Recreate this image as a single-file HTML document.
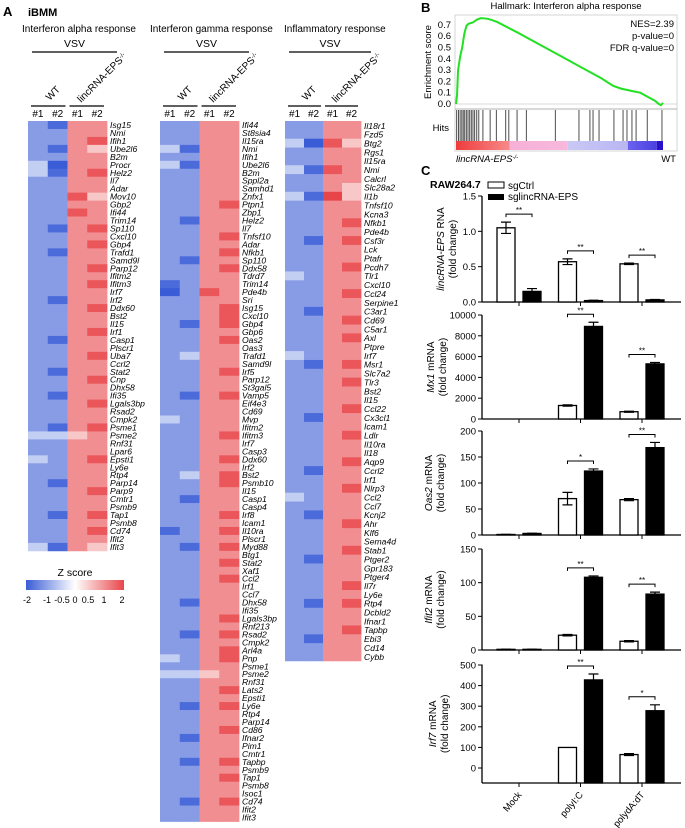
<!DOCTYPE html>
<html><head><meta charset="utf-8">
<style>
html,body{margin:0;padding:0;background:#fff;}
svg{display:block;font-family:"Liberation Sans",Arial,sans-serif;}
</style></head>
<body>
<svg id="fig" width="685" height="828" viewBox="0 0 685 828" xmlns="http://www.w3.org/2000/svg">
<defs>
<linearGradient id="zgrad" x1="0" x2="1" y1="0" y2="0">
<stop offset="0" stop-color="#3a5cd6"/><stop offset="0.5" stop-color="#ffffff"/><stop offset="1" stop-color="#e8454a"/>
</linearGradient>
</defs>
<g>
<text x="3" y="16" font-size="13" font-weight="bold">A</text>
<text x="28" y="16" font-size="11" font-weight="bold">iBMM</text>
<text x="22" y="32" font-size="10">Interferon alpha response</text>
<text x="150" y="32" font-size="10">Interferon gamma response</text>
<text x="284" y="32" font-size="10">Inflammatory response</text>
<g>
<text x="75" y="576" font-size="10.5" text-anchor="middle">Z score</text>
<rect x="26" y="580" width="98" height="10" fill="url(#zgrad)"/>
<text x="27" y="603" font-size="9" text-anchor="middle">-2</text>
<text x="47" y="603" font-size="9" text-anchor="middle">-1</text>
<text x="62" y="603" font-size="9" text-anchor="middle">-0.5</text>
<text x="75" y="603" font-size="9" text-anchor="middle">0</text>
<text x="88" y="603" font-size="9" text-anchor="middle">0.5</text>
<text x="104" y="603" font-size="9" text-anchor="middle">1</text>
<text x="122" y="603" font-size="9" text-anchor="middle">2</text>
</g>
</g>
<g id="heatmaps"></g>
<g>
<text x="421" y="12" font-size="13" font-weight="bold">B</text>
<text x="566" y="9" font-size="9.5" text-anchor="middle">Hallmark: Interferon alpha response</text>
<rect x="455" y="15" width="222" height="136" fill="none" stroke="#ccc" stroke-width="0.8"/>
<line x1="455" x2="677" y1="104" y2="104" stroke="#ccc" stroke-width="0.8"/>
<line x1="455" x2="677" y1="109" y2="109" stroke="#999" stroke-width="0.8"/>
<text transform="translate(431,62) rotate(-90)" font-size="9.5" text-anchor="middle">Enrichment score</text>
<text x="449" y="131" font-size="9.5" text-anchor="end">Hits</text>
<text x="674" y="27" font-size="9.5" text-anchor="end">NES=2.39</text>
<text x="674" y="39" font-size="9.5" text-anchor="end">p-value=0</text>
<text x="674" y="51" font-size="9.5" text-anchor="end">FDR q-value=0</text>
<text x="456" y="162" font-size="9.5" font-style="italic">lincRNA-EPS<tspan font-size="6" dy="-3">-/-</tspan></text>
<text x="676" y="162" font-size="9.5" text-anchor="end">WT</text>
<g id="gsea"></g>
</g>
<g>
<text x="421" y="175" font-size="13" font-weight="bold">C</text>
<text x="430" y="188" font-size="10.5" font-weight="bold">RAW264.7</text>
<rect x="488" y="182" width="16" height="6" fill="#fff" stroke="#000" stroke-width="1"/>
<text x="508" y="189" font-size="10">sgCtrl</text>
<rect x="488" y="194" width="16" height="6" fill="#000"/>
<text x="508" y="200" font-size="10">sglincRNA-EPS</text>
<g id="barcharts"></g>
</g>
</svg>
<script>
// ---------- Heatmap data ----------
const genesAlpha = "Isg15 Nmi Ifih1 Ube2l6 B2m Procr Helz2 Il7 Adar Mov10 Gbp2 Ifi44 Trim14 Sp110 Cxcl10 Gbp4 Trafd1 Samd9l Parp12 Ifitm2 Ifitm3 Irf7 Irf2 Ddx60 Bst2 Il15 Irf1 Casp1 Plscr1 Uba7 Ccrl2 Stat2 Cnp Dhx58 Ifi35 Lgals3bp Rsad2 Cmpk2 Psme1 Psme2 Rnf31 Lpar6 Epsti1 Ly6e Rtp4 Parp14 Parp9 Cmtr1 Psmb9 Tap1 Psmb8 Cd74 Ifit2 Ifit3".split(" ");
const valsAlpha = "2166 2266 2267 2165 2266 3066 3167 2266 2266 2275 2266 2276 2266 2167 2266 2267 2166 2266 2267 2266 2267 2266 2166 2267 2266 2266 2267 2166 2266 2267 2266 2166 2267 2266 2166 2267 2266 2266 2167 3356 2266 2266 3267 2266 2266 2166 2267 2266 2266 2167 2266 2267 2266 3165".split(" ");
const genesGamma = "Ifi44 St8sia4 Il15ra Nmi Ifih1 Ube2l6 B2m Sppl2a Samhd1 Znfx1 Ptpn1 Zbp1 Helz2 Il7 Tnfsf10 Adar Nfkb1 Sp110 Ddx58 Tdrd7 Trim14 Pde4b Sri Isg15 Cxcl10 Gbp4 Gbp6 Oas2 Oas3 Trafd1 Samd9l Irf5 Parp12 St3gal5 Vamp5 Eif4e3 Cd69 Mvp Ifitm2 Ifitm3 Irf7 Casp3 Ddx60 Irf2 Bst2 Psmb10 Il15 Casp1 Casp4 Irf8 Icam1 Il10ra Plscr1 Myd88 Btg1 Stat2 Xaf1 Ccl2 Irf1 Ccl7 Dhx58 Ifi35 Lgals3bp Rnf213 Rsad2 Cmpk2 Arl4a Pnp Psme1 Psme2 Rnf31 Lats2 Epsti1 Ly6e Rtp4 Parp14 Cd86 Ifnar2 Pim1 Cmtr1 Tapbp Psmb9 Tap1 Psmb8 Isoc1 Cd74 Ifit2 Ifit3".split(" ");
const valsGamma = "2266 2266 2266 3166 2266 3166 2266 2266 2266 2266 2267 2266 2166 2266 2267 2266 2267 2166 2267 2266 1266 0276 2266 2267 2267 2167 2266 2267 2266 2366 2266 2267 2266 2266 2167 2266 2266 3266 2266 2267 2266 2266 2267 2266 2367 2267 2266 2166 2266 2267 2266 1267 2266 2167 2266 2267 2266 2267 2266 2266 2166 2266 2267 2266 2167 2266 2267 3267 2266 3356 2266 2267 2266 2167 2266 2266 2267 2166 2266 2266 2167 2266 2267 2266 2266 2167 2266 2266".split(" ");
const genesInflam = "Il18r1 Fzd5 Btg2 Rgs1 Il15ra Nmi Calcrl Slc28a2 Il1b Tnfsf10 Kcna3 Nfkb1 Pde4b Csf3r Lck Ptafr Pcdh7 Tlr1 Cxcl10 Ccl24 Serpine1 C3ar1 Cd69 C5ar1 Axl Ptpre Irf7 Msr1 Slc7a2 Tlr3 Bst2 Il15 Ccl22 Cx3cl1 Icam1 Ldlr Il10ra Il18 Aqp9 Ccrl2 Irf1 Nlrp3 Ccl2 Ccl7 Kcnj2 Ahr Klf6 Sema4d Stab1 Ptger2 Gpr183 Ptger4 Il7r Ly6e Rtp4 Dcbld2 Ifnar1 Tapbp Ebi3 Cd14 Cybb".split(" ");
const valsInflam = "2266 2266 3075 2266 2266 3176 2266 2265 3185 2266 2266 2267 2266 2167 2266 2266 2267 3266 2266 2267 2266 2166 2267 2266 2267 2266 3266 2167 2266 2267 2266 2266 2267 2166 2266 2267 2266 2266 2267 2166 2266 2267 3266 2266 2166 2267 2266 2266 2267 2166 2266 2266 2267 2266 2167 2266 2266 2267 2166 2266 2266".split(" ");

const NS = "http://www.w3.org/2000/svg";
function mk(tag, attrs, parent){ const e=document.createElementNS(NS,tag); for(const k in attrs) e.setAttribute(k,attrs[k]); parent.appendChild(e); return e; }
function lerp(a,b,t){return Math.round(a+(b-a)*t);}
function zColor(z){
  z=Math.max(-2,Math.min(2,z));
  const blue=[58,92,214], white=[255,255,255], red=[232,69,74];
  let c;
  if(z<0){const t=(z+2)/2; c=[lerp(blue[0],white[0],t),lerp(blue[1],white[1],t),lerp(blue[2],white[2],t)];}
  else{const t=z/2; c=[lerp(white[0],red[0],t),lerp(white[1],red[1],t),lerp(white[2],red[2],t)];}
  return `rgb(${c[0]},${c[1]},${c[2]})`;
}
const hmRoot = document.getElementById('heatmaps');
function drawHeatmap(genes, vals, x0, y0, w, rowH, name){
  const g = mk('g',{},hmRoot);
  
  
  const cw = w/4;
  const hx = x0;
  let l = mk('line',{x1:hx+4,x2:hx+w+10,y1:52,y2:52,stroke:'#000','stroke-width':1.2},g);
   
  let t = mk('text',{x:hx+w/2+7,y:47,'font-size':10.5,'text-anchor':'middle'},g); t.textContent='VSV';
   
  l = mk('line',{x1:hx+3,x2:hx+2*cw-2,y1:106,y2:106,stroke:'#000','stroke-width':1.2},g);
   
  l = mk('line',{x1:hx+2*cw+2,x2:hx+4*cw-3,y1:106,y2:106,stroke:'#000','stroke-width':1.2},g);
   
  t = mk('text',{transform:`translate(${hx+cw+2},101) rotate(-45)`,'font-size':10},g); t.textContent='WT';
   
  t = mk('text',{transform:`translate(${hx+3*cw-6},103) rotate(-45)`,'font-size':10},g);
  t.innerHTML='lincRNA-EPS<tspan font-size="6" dy="-3">-/-</tspan>';
   
  ['#1','#2','#1','#2'].forEach((s,i)=>{
    const tt = mk('text',{x:hx+cw*i+cw/2,y:117,'font-size':10,'text-anchor':'middle'},g); tt.textContent=s;
     
  });
  genes.forEach((gene,r)=>{
    const row = vals[r];
    for(let c=0;c<4;c++){
      const z=(parseInt(row[c])-4)/1.65;
      const rc = mk('rect',{x:x0+c*cw,y:y0+r*rowH,width:cw+0.4,height:rowH+0.4,fill:zColor(z)},g);
      
      
    }
    const gt = mk('text',{x:x0+w+3,y:y0+r*rowH+rowH*0.88,'font-size':8.6,'font-style':'italic'},g);
    gt.textContent=gene;
    
    
  });
}
drawHeatmap(genesAlpha, valsAlpha, 28, 121, 79, 7.96, 'heatmap-alpha');
drawHeatmap(genesGamma, valsGamma, 160, 121, 79, 7.96, 'heatmap-gamma');
drawHeatmap(genesInflam, valsInflam, 285, 121, 76, 8.85, 'heatmap-inflammatory');

// ---------- GSEA ----------
const esRank = [0,0.005,0.01,0.02,0.03,0.04,0.05,0.06,0.08,0.1,0.12,0.15,0.17,0.2,0.3,0.4,0.5,0.6,0.7,0.76,0.8,0.85,0.89,0.93,0.96,0.98,0.99,1.0];
const esScore = [0,0.08,0.3,0.42,0.5,0.62,0.69,0.71,0.72,0.745,0.76,0.755,0.745,0.725,0.63,0.53,0.43,0.33,0.23,0.16,0.135,0.115,0.1,0.06,0.03,0.0,-0.01,0.01];
const hitRanks = [0.003,0.012,0.02,0.028,0.035,0.042,0.05,0.058,0.066,0.074,0.082,0.09,0.1,0.11,0.13,0.165,0.195,0.24,0.255,0.295,0.34,0.48,0.594,0.647,0.662,0.691,0.763,0.807,0.826,0.85,0.87,0.924,0.995];
const esTicks = [0,0.1,0.2,0.3,0.4,0.5,0.6,0.7];
const gx = f=>456+f*207;
const gy = v=>104-v*113;
const gs = document.getElementById('gsea');
esTicks.forEach(v=>{
  const t=mk('text',{x:451,y:gy(v)+3,'font-size':9.5,'text-anchor':'end'},gs); t.textContent=v.toFixed(1);
   
});
const esLine = mk('polyline',{points:esRank.map((f,i)=>gx(f)+','+gy(esScore[i])).join(' '),fill:'none',stroke:'#22e022','stroke-width':2},gs);


hitRanks.forEach(f=>{
  const l=mk('line',{x1:gx(f),x2:gx(f),y1:110,y2:141,stroke:'#222','stroke-width':1,'stroke-opacity':0.8},gs);
  
  
});
const barStops = [[0,0.26,'#ee3c3c','#f88a8a'],[0.26,0.54,'#f7b0d8','#f7b8dc'],[0.54,0.83,'#c9c8f5','#b9b6f3'],[0.83,0.97,'#6b62ee','#4a40e0'],[0.97,1.0,'#2a10c8','#2a10c8']];
barStops.forEach(s=>{
  const id='cg'+Math.round(s[0]*100);
  const lg=mk('linearGradient',{id:id,x1:0,x2:1,y1:0,y2:0},gs);
  mk('stop',{offset:0,'stop-color':s[2]},lg); mk('stop',{offset:1,'stop-color':s[3]},lg);
  const r=mk('rect',{x:gx(s[0]),y:141,width:gx(s[1])-gx(s[0]),height:9,fill:`url(#${id})`},gs);
  
  
});

// ---------- Bar charts ----------
const categories = ["Mock","polyI:C","polydA:dT"];
const lincCtrl = [1.05,0.57,0.54], lincCtrlErr=[0.08,0.04,0.01];
const lincKO = [0.15,0.02,0.03], lincKOErr=[0.04,0.005,0.005];
const mx1Ctrl = [0,1300,700], mx1CtrlErr=[0,60,50];
const mx1KO = [0,8900,5300], mx1KOErr=[0,400,130];
const oasCtrl = [1,70,68], oasCtrlErr=[0.3,12,2];
const oasKO = [3,123,168], oasKOErr=[0.5,4,10];
const ifitCtrl = [1,22,13], ifitCtrlErr=[0.2,1,1];
const ifitKO = [1,108,83], ifitKOErr=[0.2,2,3];
const irfCtrl = [0,150,120], irfCtrlErr=[0,0,4];
const irfKO = [0,435,305], irfKOErr=[0,25,25];
const sigLinc = ["**","**","**"], sigMx1=["","**","**"], sigOas=["","*","**"], sigIfit=["","**","**"], sigIrf=["","**","*"];

const bc = document.getElementById('barcharts');
const groupCenter = i=>519+i*61.5;
function drawBars(cfg){
  const g=mk('g',{},bc);
  
  
  const y = v=>cfg.y0-(v-0)*(cfg.y0-cfg.yMaxPx)/cfg.max;
  const ax = cfg.axisY||cfg.y0;
  let a=mk('line',{x1:482,x2:482,y1:y(cfg.max),y2:ax,stroke:'#000','stroke-width':1.3},g);
   
  a=mk('line',{x1:482,x2:681,y1:ax,y2:ax,stroke:'#000','stroke-width':1.3},g);
   
  cfg.ticks.forEach((tv,i)=>{
    const ty = cfg.labelY ? cfg.labelY(tv) : y(tv);
    const tk=mk('line',{x1:478,x2:482,y1:ty,y2:ty,stroke:'#000','stroke-width':1},g);
     
    const tl=mk('text',{x:476,y:ty+3.5,'font-size':9.5,'text-anchor':'end'},g);
    tl.textContent=cfg.tickLabels[i];
     
  });
  categories.forEach((c,i)=>{
    const cx=groupCenter(i);
    const tk=mk('line',{x1:cx,x2:cx,y1:ax,y2:ax+4,stroke:'#000','stroke-width':1},g);
     
    [[cfg.ctrl,cfg.ctrlErr,'#fff',-22],[cfg.ko,cfg.koErr,'#000',4]].forEach(([vals,errs,fill,off],k)=>{
      const v=vals[i]; const x=cx+off;
      const top=y(v);
      const r=mk('rect',{x:x,y:top,width:18,height:Math.max(0,ax-top),fill:fill,stroke:'#000','stroke-width':1.3},g);
      
      
      if(errs[i]>0){
        const e1=y(v+errs[i]), e2=y(v-errs[i]);
        const el=mk('path',{d:`M${x+9},${e1}V${k==0?e2:top}M${x+4},${e1}H${x+14}`+(k==0?`M${x+4},${e2}H${x+14}`:''),stroke:'#000','stroke-width':1.2,fill:'none'},g);
        
        
      }
    });
    if(cfg.sig[i]){
      const hi=Math.max(cfg.ctrl[i]+cfg.ctrlErr[i],cfg.ko[i]+cfg.koErr[i]);
      const by=y(hi)-8;
      const br=mk('path',{d:`M${cx-13},${by+3}V${by}H${cx+13}V${by+3}`,stroke:'#000','stroke-width':1,fill:'none'},g);
      
      
      const st=mk('text',{x:cx,y:by-1,'font-size':8,'text-anchor':'middle'},g);
      st.textContent=cfg.sig[i];
      
      
    }
  });
  const mid=(y(cfg.max)+ax)/2;
  const t1=mk('text',{transform:`translate(${cfg.tx},${mid}) rotate(-90)`,'font-size':10,'text-anchor':'middle'},g);
  t1.innerHTML=cfg.title;
   
  const t2=mk('text',{transform:`translate(${cfg.tx+12},${mid}) rotate(-90)`,'font-size':10,'text-anchor':'middle'},g);
  t2.textContent='(fold change)';
   
}
drawBars({name:'chart-lincrna-eps',tx:444,y0:302,yMaxPx:196,max:1.5,ticks:[0,0.5,1.0,1.5],tickLabels:["0.0","0.5","1.0","1.5"],ctrl:lincCtrl,ctrlErr:lincCtrlErr,ko:lincKO,koErr:lincKOErr,sig:sigLinc,title:'<tspan font-style="italic">lincRNA-EPS</tspan> RNA'});
drawBars({name:'chart-mx1',tx:434,y0:419,yMaxPx:315,max:10000,ticks:[0,2000,4000,6000,8000,10000],tickLabels:["0","2000","4000","6000","8000","10000"],ctrl:mx1Ctrl,ctrlErr:mx1CtrlErr,ko:mx1KO,koErr:mx1KOErr,sig:sigMx1,title:'<tspan font-style="italic">Mx1</tspan> mRNA'});
drawBars({name:'chart-oas2',tx:432,y0:535,yMaxPx:431,max:200,ticks:[0,50,100,150,200],tickLabels:["0","50","100","150","200"],ctrl:oasCtrl,ctrlErr:oasCtrlErr,ko:oasKO,koErr:oasKOErr,sig:sigOas,title:'<tspan font-style="italic">Oas2</tspan> mRNA'});
drawBars({name:'chart-ifit2',tx:432,y0:650,yMaxPx:549,max:150,ticks:[0,50,100,150],tickLabels:["0","50","100","150"],ctrl:ifitCtrl,ctrlErr:ifitCtrlErr,ko:ifitKO,koErr:ifitKOErr,sig:sigIfit,title:'<tspan font-style="italic">Ifit2</tspan> mRNA'});
drawBars({name:'chart-irf7',tx:436,y0:783,yMaxPx:664.5,max:500,axisY:783,labelY:v=>768-v*0.206,ticks:[0,100,200,300,400,500],tickLabels:["0","100","200","300","400","500"],ctrl:irfCtrl,ctrlErr:irfCtrlErr,ko:irfKO,koErr:irfKOErr,sig:sigIrf,title:'<tspan font-style="italic">Irf7</tspan> mRNA'});
categories.forEach((c,i)=>{
  const t=mk('text',{transform:`translate(${groupCenter(i)+3},${795}) rotate(-50)`,'font-size':9.5,'text-anchor':'end'},bc);
  t.textContent=c;
  
  
});
</script>
</body></html>
